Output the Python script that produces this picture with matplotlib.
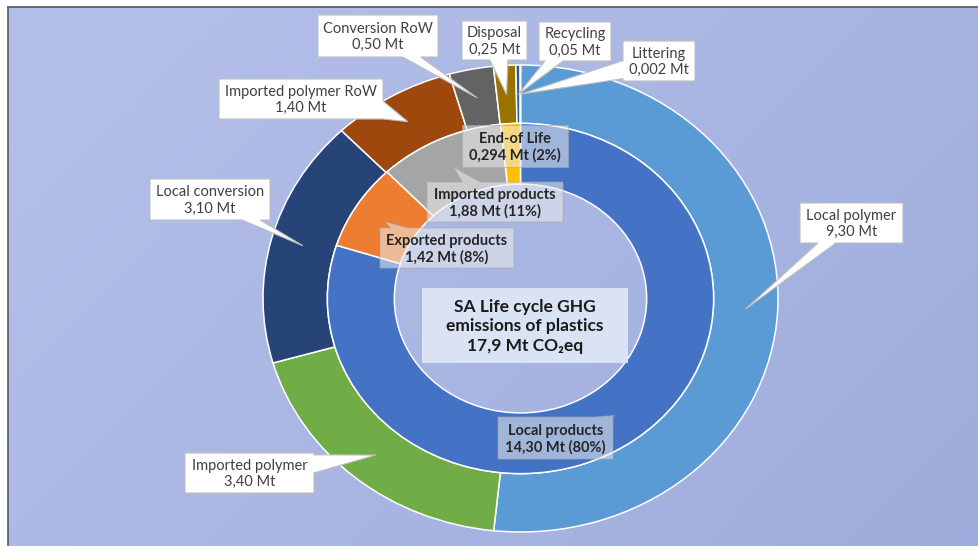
import numpy as np
import matplotlib.pyplot as plt
from matplotlib.patches import Polygon

W, H = 979, 546
# centre of the rings and pixel size of one radius unit (the chart is a bit stretched sideways)
CX, CY, RX, RY = 520.5, 298.5, 257.5, 233.5

outer_labels = ["Local polymer", "Imported polymer", "Local conversion", "Imported polymer RoW",
                "Conversion RoW", "Disposal", "Recycling", "Littering"]
outer_values = [9.30, 3.40, 3.10, 1.40, 0.50, 0.25, 0.05, 0.002]
outer_colors = ["#5B9BD5", "#70AD47", "#264478", "#9E480E", "#636363", "#997300", "#255E91", "#43682B"]

inner_labels = ["Local products", "Exported products", "Imported products", "End-of Life"]
inner_values = [14.30, 1.42, 1.88, 0.294]
inner_colors = ["#4472C4", "#ED7D31", "#A5A5A5", "#FFC000"]

title = "SA Life cycle GHG\nemissions of plastics\n{} Mt CO\u2082eq"

# label boxes in pixels: x0, y0, x1, y1
outer_boxes = [(800, 203, 903, 243), (185, 453, 314, 493), (150, 179, 270, 220), (219, 79, 383, 119),
               (318, 15, 438, 57), (462, 21, 527, 60), (539, 22, 611, 61), (623, 41, 695, 81)]
inner_boxes = [(498, 417, 613, 459), (380, 228, 514, 268), (427, 182, 563, 222), (462, 125, 568, 167)]
title_box = (422, 288, 628, 363)

FONT = ["Lato", "DejaVu Sans"]


def fmt(v):
    s = "{:.2f}".format(v) if round(v, 2) == v else "{:.3f}".format(v)
    return s.replace(".", ",")


def tips(values, r):
    values = np.array(values)
    mid = np.cumsum(values) - values / 2
    a = np.deg2rad(90 - mid / values.sum() * 360)
    return CX + r * np.cos(a) * RX, CY - r * np.sin(a) * RY


def callout(box, tip, bw=18):
    x0, y0, x1, y1 = box
    cx, cy = (x0 + x1) / 2, (y0 + y1) / 2
    tx, ty = tip
    rect = [(x0, y0), (x1, y0), (x1, y1), (x0, y1)]
    if x0 <= tx <= x1 and y0 <= ty <= y1:
        return rect
    dx, dy = tx - cx, ty - cy
    sx = (x1 - x0) / 2 / abs(dx) if dx else np.inf
    sy = (y1 - y0) / 2 / abs(dy) if dy else np.inf
    h = bw / 2
    if sx < sy:
        ey = np.clip(cy + dy * sx, y0 + h, y1 - h)
        if dx > 0:
            pts = [(x0, y0), (x1, y0), (x1, ey - h), (tx, ty), (x1, ey + h), (x1, y1), (x0, y1)]
        else:
            pts = [(x0, y0), (x1, y0), (x1, y1), (x0, y1), (x0, ey + h), (tx, ty), (x0, ey - h)]
    else:
        ex = np.clip(cx + dx * sy, x0 + h, x1 - h)
        if dy > 0:
            pts = [(x0, y0), (x1, y0), (x1, y1), (ex + h, y1), (tx, ty), (ex - h, y1), (x0, y1)]
        else:
            pts = [(x0, y0), (ex - h, y0), (tx, ty), (ex + h, y0), (x1, y0), (x1, y1), (x0, y1)]
    return pts


fig = plt.figure(figsize=(W / 100, H / 100), dpi=100)

# background panel with a soft gradient
bg = fig.add_axes([0, 0, 1, 1])
bg.set_xlim(0, W)
bg.set_ylim(H, 0)
bg.axis("off")
yy, xx = np.mgrid[0:1:120j, 0:1:220j]
t = np.clip(0.65 * xx + 0.35 * yy - 0.15, 0, 1)[..., None]
c0 = np.array([178, 190, 232]) / 255
c1 = np.array([154, 169, 218]) / 255
bg.imshow(c0 * (1 - t) + c1 * t, extent=(8, W, H, 7), aspect="auto", interpolation="bilinear")
bg.plot([8, W], [7, 7], color="#595959", lw=1.2)
bg.plot([8, 8], [7, H], color="#595959", lw=1.2)

ax = fig.add_axes([0, 0, 1, 1])
ax.pie(outer_values, radius=1, startangle=90, counterclock=False, colors=outer_colors,
       wedgeprops=dict(width=0.25, edgecolor="white", linewidth=1.1))
ax.pie(inner_values, radius=0.75, startangle=90, counterclock=False, colors=inner_colors,
       wedgeprops=dict(width=0.26, edgecolor="white", linewidth=1.1))
ax.set_aspect("auto")
ax.set_xlim(-CX / RX, (W - CX) / RX)
ax.set_ylim(-(H - CY) / RY, CY / RY)
ax.axis("off")

ov = fig.add_axes([0, 0, 1, 1])
ov.set_xlim(0, W)
ov.set_ylim(H, 0)
ov.axis("off")

txs, tys = tips(outer_values, 0.875)
for lab, v, box, tx, ty in zip(outer_labels, outer_values, outer_boxes, txs, tys):
    ov.add_patch(Polygon(callout(box, (tx, ty)), closed=True, facecolor="white",
                         edgecolor="#BFBFBF", lw=0.8, zorder=3))
    ov.text((box[0] + box[2]) / 2, (box[1] + box[3]) / 2 + 1, lab + "\n" + fmt(v) + " Mt",
            ha="center", va="center", fontsize=10.5, color="#404040", family=FONT,
            linespacing=1.2, zorder=4)

total = sum(inner_values)
txs, tys = tips(inner_values, 0.62)
for lab, v, box, tx, ty in zip(inner_labels, inner_values, inner_boxes, txs, tys):
    ov.add_patch(Polygon(callout(box, (tx, ty)), closed=True, facecolor="#EDEDED", alpha=0.55,
                         edgecolor="#A6A6A6", lw=0.8, zorder=3))
    txt = "{}\n{} Mt ({:.0f}%)".format(lab, fmt(v), round(v / total * 100 + 1e-9))
    ov.text((box[0] + box[2]) / 2, (box[1] + box[3]) / 2 + 1, txt,
            ha="center", va="center", fontsize=10.5, fontweight="bold", color="#262626",
            family=FONT, linespacing=1.2, zorder=4)

x0, y0, x1, y1 = title_box
ov.add_patch(Polygon([(x0, y0), (x1, y0), (x1, y1), (x0, y1)], closed=True,
                     facecolor="#DAE3F3", edgecolor="none", zorder=3))
ov.text((x0 + x1) / 2, (y0 + y1) / 2 + 1, title.format("{:.1f}".format(total).replace(".", ",")),
        ha="center", va="center", fontsize=12.5, fontweight="bold", color="#1A1A1A",
        family=FONT, linespacing=1.3, zorder=4)

fig.savefig("out.png", dpi=100)
